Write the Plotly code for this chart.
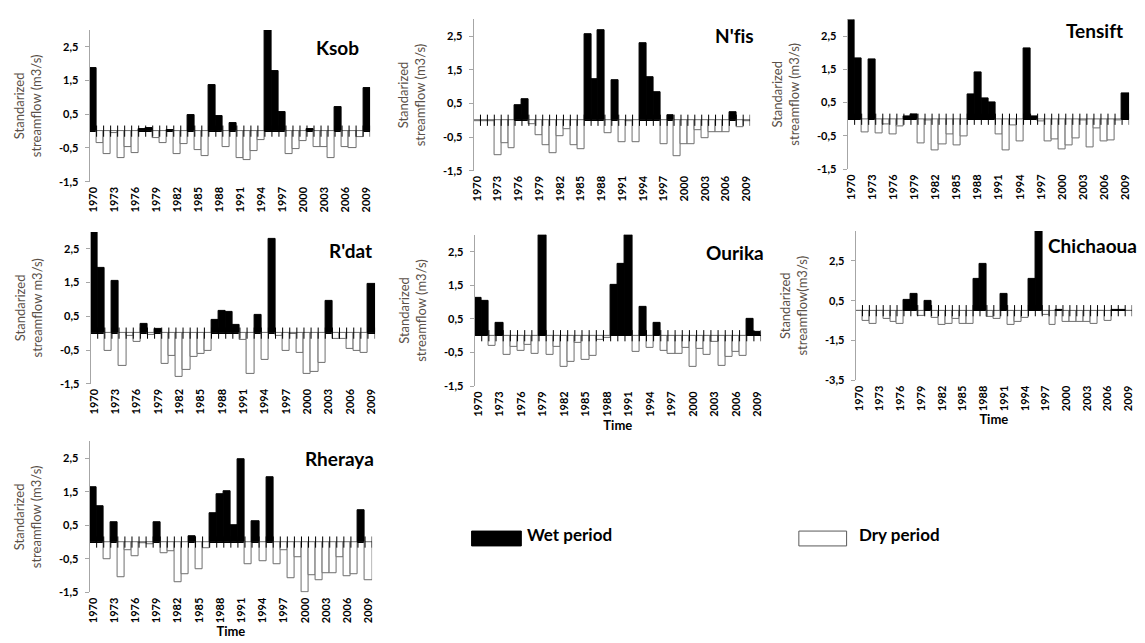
import plotly.graph_objects as go

years = list(range(1970, 2010))
tick_years = years[::3]

ksob = [1.88, -0.36, -0.68, -0.06, -0.80, -0.47, -0.64, 0.06, 0.08, -0.20,
        -0.34, 0.03, -0.68, -0.38, 0.49, -0.56, -0.75, 1.38, 0.46, -0.47,
        0.25, -0.80, -0.85, -0.59, -0.26, 3.00, 1.77, 0.57, -0.68, -0.53,
        -0.31, 0.06, -0.47, -0.47, -0.80, 0.70, -0.47, -0.50, -0.18, 1.27]
nfis = [-0.02, -0.02, -0.02, -1.03, -0.67, -0.82, 0.44, 0.63, -0.12, -0.45,
        -0.74, -0.98, -0.48, -0.27, -0.73, -0.85, 2.56, 1.22, 2.68, -0.37,
        1.20, -0.65, -0.02, -0.65, 2.30, 1.27, 0.82, -0.72, 0.14, -1.08,
        -0.72, -0.72, -0.30, -0.53, -0.35, -0.35, -0.35, 0.23, -0.22, -0.02]
tensift = [3.00, 1.83, -0.38, 1.80, -0.42, -0.15, -0.45, -0.20, 0.10, 0.16,
           -0.72, -0.04, -0.93, -0.75, -0.45, -0.79, -0.50, 0.75, 1.42, 0.62,
           0.50, -0.45, -0.93, -0.17, -0.66, 2.13, 0.10, -0.05, -0.68, -0.60,
           -0.90, -0.78, -0.58, -0.02, -0.84, -0.28, -0.68, -0.64, -0.02, 0.77]
rdat = [3.00, 1.93, -0.53, 1.55, -0.96, -0.08, -0.26, 0.26, -0.05, 0.13,
        -0.90, -0.66, -1.30, -1.08, -0.70, -0.60, -0.52, 0.38, 0.67, 0.63,
        0.24, -0.20, -1.22, 0.55, -0.78, 2.80, -0.07, -0.53, -0.02, -0.58,
        -1.22, -1.15, -0.87, 0.95, -0.18, -0.18, -0.48, -0.52, -0.58, 1.47]
ourika = [1.14, 1.03, -0.30, 0.39, -0.57, -0.33, -0.46, -0.27, -0.53, 3.00,
          -0.57, -0.33, -0.92, -0.77, -0.20, -0.72, -0.60, -0.12, -0.05, 1.50,
          2.13, 3.00, -0.47, 0.87, -0.35, 0.37, -0.45, -0.53, -0.53, -0.35,
          -0.93, -0.40, -0.58, -0.18, -0.90, -0.62, -0.47, -0.60, 0.50, 0.10]
chichaoua = [-0.02, -0.53, -0.64, -0.03, -0.41, -0.56, -0.64, 0.55, 0.84, -0.27,
             0.47, -0.37, -0.70, -0.66, -0.42, -0.64, -0.64, 1.57, 2.36, -0.33,
             -0.43, 0.84, -0.70, -0.55, -0.37, 1.57, 4.00, -0.20, -0.70, 0.03,
             -0.58, -0.58, -0.58, -0.58, -0.64, -0.03, -0.50, 0.02, 0.02, -0.02]
rheraya = [1.62, 1.08, -0.52, 0.60, -1.04, -0.25, -0.41, -0.04, -0.05, 0.58,
           -0.33, -0.27, -1.20, -0.95, 0.18, -0.80, -0.18, 0.87, 1.43, 1.50,
           0.50, 2.47, -0.65, 0.63, -0.57, 1.93, -0.67, -0.25, -1.07, -0.45,
           -1.50, -1.00, -1.12, -0.92, -0.92, -0.45, -1.02, -0.95, 0.95, -1.12]

W, H = 1145, 643
FONT = "Lato"
NOLIG = "<span style='font-variant-ligatures:none;letter-spacing:0.01px'>{}</span>"

# name, values, y title, x title, x px range, y px range (top, bottom), y range, y ticks, title right/centre
panels = [
    ("Ksob", ksob, "Standarized<br>streamflow (m3/s)", None, (78, 360), (22.3, 175.3),
     (-1.5, 3.0), [2.5, 1.5, 0.5, -0.5, -1.5], (351, 40)),
    ("N'fis", nfis, "Standarized<br>streamflow (m3/s)", None,
     (464, 742), (11.3, 164.3), (-1.5, 3.0), [2.5, 1.5, 0.5, -0.5, -1.5], (748, 28)),
    ("Tensift", tensift, "Standarized<br>streamflow (m3/s)", None, (840, 1123), (11.5, 162.7),
     (-1.5, 3.0), [2.5, 1.5, 0.5, -0.5, -1.5], (1119, 23)),
    ("R'dat", rdat, "Standarized<br>streamflow m3/s)", None, (79, 365), (226, 379.3),
     (-1.5, 3.0), [2.5, 1.5, 0.5, -0.5, -1.5], (364, 245)),
    ("Ourika", ourika, "Standarized<br>streamflow (m3/s)", "Time", (465, 753), (229, 381.7),
     (-1.5, 3.0), [2.5, 1.5, 0.5, -0.5, -1.5], (758, 247)),
    ("Chichaoua", chichaoua, "Standarized<br>streamflow(m3/s)", "Time", (848, 1126), (225, 376),
     (-3.5, 4.0), [2.5, 0.5, -1.5, -3.5], (1133, 240)),
    ("Rheraya", rheraya, "Standarized<br>streamflow (m3/s)", "Time", (78, 362), (437.3, 590),
     (-1.5, 3.0), [2.5, 1.5, 0.5, -0.5, -1.5], (366, 455)),
]

fig = go.Figure()
annotations = []
layout = {}

for i, (name, vals, ytitle, xtitle, xpx, ypx, yr, yt, tpos) in enumerate(panels):
    n = "" if i == 0 else str(i + 1)
    xa, ya = "x" + n, "y" + n
    fill = ["black" if v > 0 else "white" for v in vals]
    edge = ["black" if v > 0 else "#6e6e6e" for v in vals]
    fig.add_trace(go.Bar(x=years, y=vals, xaxis=xa, yaxis=ya, width=1.0,
                         marker=dict(color=fill, line=dict(color=edge, width=1)),
                         showlegend=False, hoverinfo="x+y"))
    # small cross ticks on the zero line at category boundaries
    fig.add_trace(go.Scatter(x=[y + 0.5 for y in years], y=[0] * len(years),
                             xaxis=xa, yaxis=ya, mode="markers",
                             marker=dict(symbol="line-ns", size=8,
                                         line=dict(color="black", width=1)),
                             showlegend=False, hoverinfo="skip"))
    layout["xaxis" + n] = dict(
        domain=[xpx[0] / W, xpx[1] / W], anchor=ya, range=[1969.5, 2009.5],
        tickvals=tick_years, ticktext=[str(t) for t in tick_years], tickangle=-90,
        tickfont=dict(family=FONT, size=11, color="black", weight="bold"),
        showline=False, showgrid=False, zeroline=False, ticks="", ticklabelstandoff=2,
        title=dict(text=xtitle, font=dict(family=FONT, size=13, color="black", weight="bold"),
                   standoff=4) if xtitle else None,
    )
    layout["yaxis" + n] = dict(
        domain=[1 - ypx[1] / H, 1 - ypx[0] / H], anchor=xa, range=list(yr),
        tickvals=yt, ticktext=[f"{v:.1f}".replace(".", ",") for v in yt],
        tickfont=dict(family=FONT, size=11, color="black", weight="bold"),
        showline=True, linecolor="#a6a6a6", linewidth=1,
        ticks="outside", ticklen=4, tickcolor="#a6a6a6", ticklabelstandoff=4,
        showgrid=False, zeroline=True, zerolinecolor="black", zerolinewidth=1,
        title=dict(text=ytitle, font=dict(family=FONT, size=13, color="#5a5048"), standoff=14),
    )
    annotations.append(dict(text=NOLIG.format(name), x=tpos[0] / W, y=1 - tpos[1] / H,
                            xref="paper", yref="paper",
                            showarrow=False, xanchor="right", yanchor="middle",
                            font=dict(family=FONT, size=19, color="black", weight="bold")))

# legend drawn as simple key boxes with labels
shapes = [
    dict(type="rect", xref="paper", yref="paper", x0=462 / W, x1=512 / W,
         y0=1 - 543 / H, y1=1 - 528 / H, fillcolor="black", line=dict(color="black", width=1)),
    dict(type="rect", xref="paper", yref="paper", x0=791 / W, x1=839 / W,
         y0=1 - 543 / H, y1=1 - 528 / H, fillcolor="white", line=dict(color="#595959", width=1)),
]
annotations.append(dict(text="Wet period", x=516 / W, y=1 - 531 / H, xref="paper", yref="paper",
                        showarrow=False, xanchor="left", yanchor="middle",
                        font=dict(family=FONT, size=17, color="black", weight="bold")))
annotations.append(dict(text="Dry period", x=849 / W, y=1 - 531 / H, xref="paper", yref="paper",
                        showarrow=False, xanchor="left", yanchor="middle",
                        font=dict(family=FONT, size=17, color="black", weight="bold")))

fig.update_layout(
    width=W, height=H, margin=dict(l=0, r=0, t=0, b=0),
    paper_bgcolor="white", plot_bgcolor="white", bargap=0,
    annotations=annotations, shapes=shapes, showlegend=False,
    font=dict(family=FONT),
    **layout,
)

fig.write_html("out.html")
